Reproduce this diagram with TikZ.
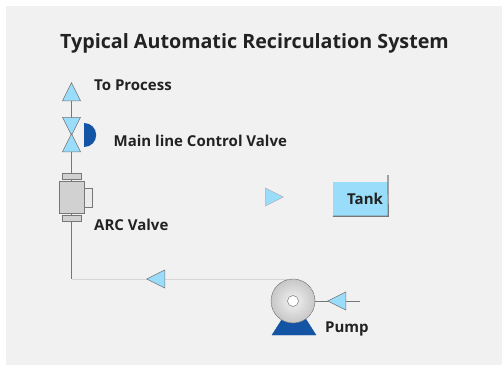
\documentclass[tikz,border=0pt]{standalone}
\usepackage{fontspec}
\setmainfont{Open Sans}
\usetikzlibrary{shapes.geometric}
\definecolor{panelgray}{HTML}{F1F1F1}
\definecolor{lightblue}{HTML}{99DDFB}
\definecolor{darkblue}{HTML}{1454A4}
\definecolor{pipegray}{HTML}{777777}
\definecolor{textgray}{HTML}{222222}
\begin{document}
\begin{tikzpicture}[x=1pt, y=-1pt, font=\bfseries, text=textgray,
      tri/.style={isosceles triangle, isosceles triangle stretches, draw=pipegray, line width=0.5pt, fill=lightblue, inner sep=0pt, minimum width=18pt, minimum height=18pt, anchor=lower side},
      pipe/.style={draw=pipegray, line width=1pt},
      faint/.style={draw=black!16, line width=1pt},
      metal/.style={draw=pipegray, line width=0.7pt, fill=black!18, inner sep=0pt},
      lbl/.style={anchor=west, inner sep=0pt, font=\bfseries\fontsize{15}{17}\selectfont}]
    \useasboundingbox (0,0) rectangle (502,365);
    \fill[white] (0,0) rectangle (502,365);
    \fill[panelgray] (6,6) rectangle (502,365);
    \node[font=\bfseries\fontsize{19.7}{23}\selectfont, inner sep=0pt] (title) at (254.5,43) {Typical Automatic Recirculation System};
    % connectors first, so that the symbols sit on them
    \coordinate (outp) at (71.5,101);
    \coordinate (elbow) at (71.5,279);
    \coordinate (inlet) at (360,301);
    \coordinate (pumpc) at (293,301);
    \coordinate (pumptop) at (293,279);
    \draw[pipe] (outp) -- (elbow);
    \draw[faint] (elbow) -- (pumptop);
    \draw[pipe] (pumpc) -- (inlet);
    % valves and pipe nodes
    \node[tri, shape border rotate=90] (out) at (outp) {};
    \node[tri, shape border rotate=-90] (vup) at (71.5,117) {};
    \node[tri, shape border rotate=90] (vdn) at (71.5,152) {};
    \node[semicircle, fill=darkblue, inner sep=0pt, minimum width=24pt, minimum height=12pt, rotate=-90, anchor=chord center] (act) at (84,135) {};
    \node[metal, minimum width=19pt, minimum height=6pt] (capa) at (71.5,176) {};
    \node[metal, fill=black!8, minimum width=8pt, minimum height=19pt] (side) at (88,197.5) {};
    \node[metal, minimum width=25pt, minimum height=32pt] (arc) at (71.5,197) {};
    \node[metal, minimum width=19pt, minimum height=6pt] (capb) at (71.5,218) {};
    \node[tri, shape border rotate=180] (ret) at (165,279) {};
    \node[tri, shape border rotate=180] (suc) at (346,301) {};
    \node[tri, draw=black!30] (flow) at (265,197) {};
    \node[trapezium, fill=darkblue, draw=darkblue, inner sep=0pt, trapezium stretches=true, minimum width=44pt, minimum height=18pt, trapezium left angle=60, trapezium right angle=60] (base) at (294,326) {\phantom{x}};
    \node[circle, draw=pipegray, dash pattern=on 6pt off 0.6pt, line width=0.5pt, inner color=black!5, outer color=black!22, inner sep=0pt, minimum size=44pt] (pump) at (pumpc) {};
    \node[circle, draw=pipegray, fill=white, line width=0.5pt, inner sep=0pt, minimum size=11pt] (eye) at (pump) {};
    \node[fill=lightblue, minimum width=55pt, minimum height=34pt, inner sep=0pt] (tank) at (360.5,199) {};
    \coordinate (tanktop) at (388,175);
    \draw[draw=pipegray, line width=1.2pt] (tanktop) -- (tank.south east) -- (tank.south west);
    % labels
    \node[lbl] (lproc) at (94,85.5) {To Process};
    \node[lbl] (lmain) at (113.5,140.5) {Main line Control Valve};
    \node[lbl] (larc) at (94,224.5) {ARC Valve};
    \node[lbl] (ltank) at (347,198.5) {Tank};
    \node[lbl] (lpump) at (325,329) {Pump};
  \end{tikzpicture}
\end{document}
